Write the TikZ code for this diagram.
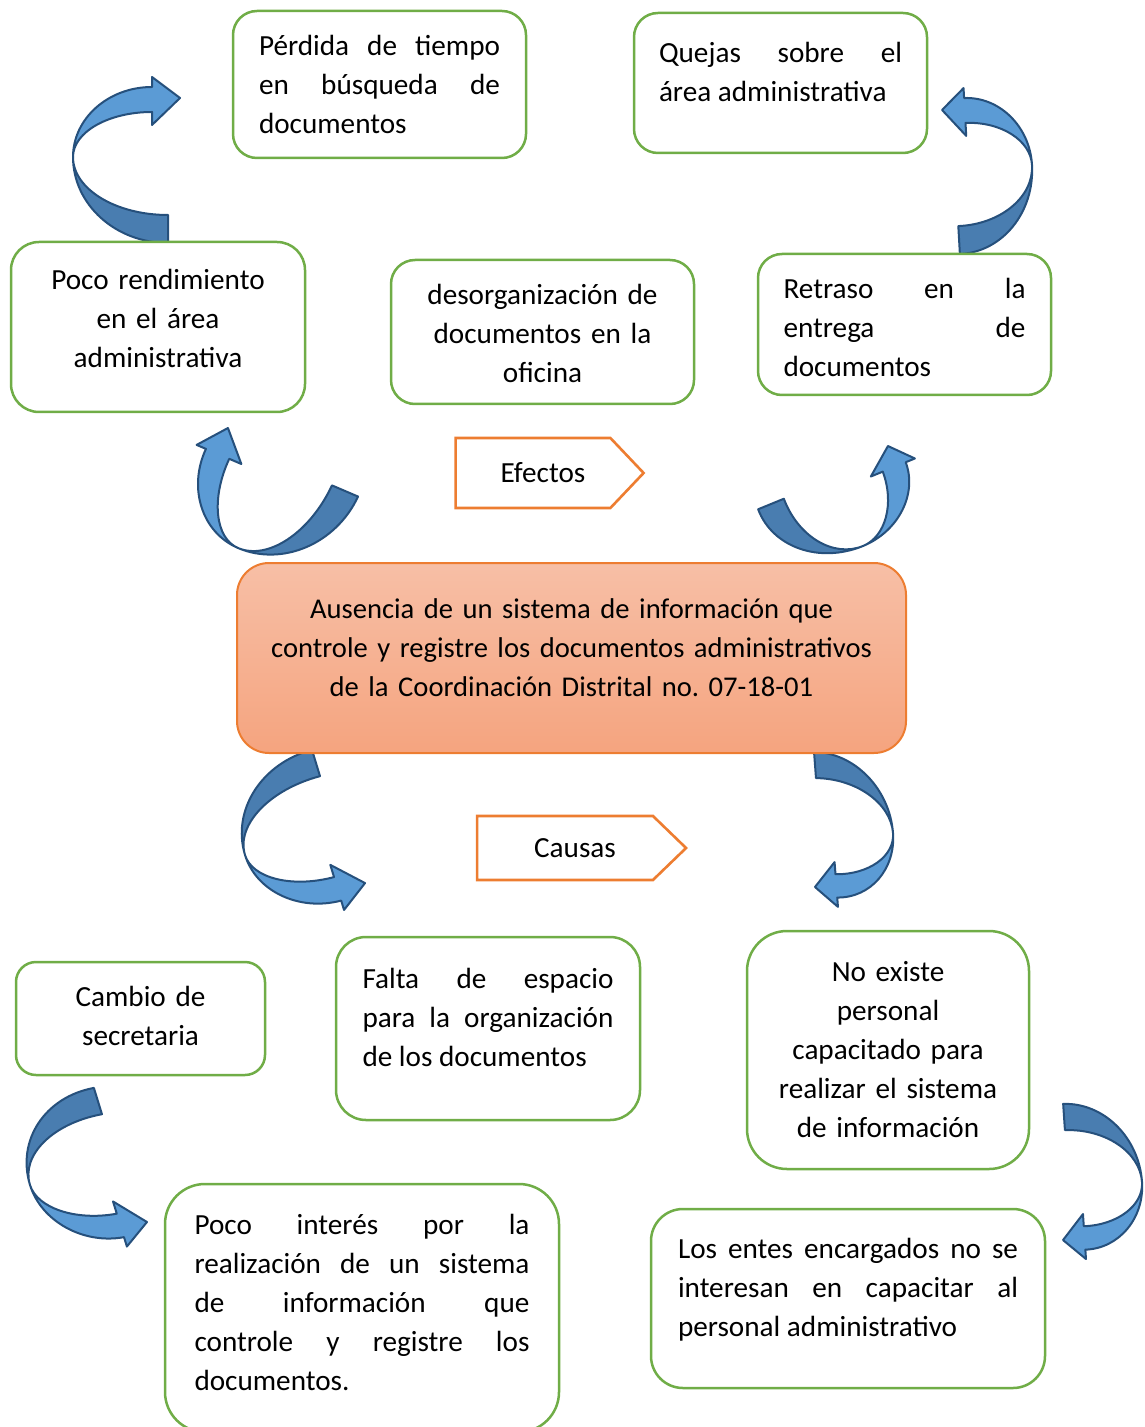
\documentclass[tikz,border=0pt]{standalone}
\usepackage{fontspec}
\setmainfont{Carlito}
\usetikzlibrary{positioning,shapes.symbols}
\definecolor{verde}{RGB}{112,173,71}
\definecolor{naranja}{RGB}{237,125,49}
\definecolor{claro}{RGB}{91,155,213}
\definecolor{oscuro}{RGB}{73,125,176}
\definecolor{borde}{RGB}{38,80,124}
\definecolor{salmonA}{RGB}{247,191,166}
\definecolor{salmonB}{RGB}{245,164,127}
\tikzset{>=latex}
\tikzset{texto/.style={font=\fontsize{14.6}{19.5}\selectfont}}
\tikzset{caja/.style={draw=verde,line width=1.25pt,fill=white,rounded corners=#1,inner sep=0pt,align=center,texto},caja/.default=12pt}
\tikzset{etiqueta/.style={signal,signal to=east,draw=naranja,line width=1.3pt,fill=white,inner sep=0pt,texto}}
\tikzset{principal/.style={draw=naranja,line width=1pt,rounded corners=16pt,top color=salmonA,bottom color=salmonB,inner sep=0pt,align=center,font=\fontsize{14.3}{19.5}\selectfont}}
\tikzset{curva/.pic={
    \filldraw[fill=oscuro,draw=borde,line width=1pt,line join=round] (0,0) .. controls (0,47.5) and (42.6,86) .. (95,86) -- (95,58) .. controls (42.6,58) and (0,32) .. (0,0) -- cycle;
    \filldraw[fill=claro,draw=borde,line width=1pt,line join=round] (0,0) .. controls (0,-38.6) and (35.4,-70) .. (79,-70) -- (79,-80) -- (107,-59) -- (79,-32) -- (79,-45) .. controls (35.4,-45) and (0,-24.8) .. (0,0) -- cycle;
}}
\newcommand{\abajo}[1]{\rule[-#1]{0pt}{#1}}
\newcommand{\arriba}[1]{\rule{0pt}{#1}}
\hyphenpenalty=10000
\tolerance=10000
\frenchspacing

\begin{document}
\begin{tikzpicture}[x=0.5pt,y=-0.5pt]
    \useasboundingbox (0,0) rectangle (1144,1427);
    % flechas curvas
    \pic at (73,157) {curva};
    \pic[cm={-0.81,-0.035,-0.056,0.996,(0,0)}] at (1032,165) {curva};
    \pic[cm={0.42,0.902,-0.932,0.398,(0,0)}] at (238,548) {curva};
    \pic[cm={-0.273,0.727,0.918,0.376,(0,0)}] at (863,546) {curva};
    \pic[cm={0.964,0.256,0.286,-0.94,(0,0)}] at (245,855) {curva};
    \pic[cm={-0.768,0.009,0.07,-0.932,(0,0)}] at (893,833) {curva};
    \pic[cm={0.934,0.172,0.289,-0.939,(0,0)}] at (30,1185) {curva};
    \pic[cm={-0.773,-0.026,0.063,-0.937,(0,0)}] at (1142,1182) {curva};

    % efectos
    \node[caja=12pt,minimum width=146.5pt,minimum height=73.5pt,text width=120.5pt,align=justify] (perdida) at (379.5,84.5) {Pérdida de tiempo\linebreak en búsqueda de\linebreak documentos};
    \node[caja=12pt,minimum width=146.5pt,minimum height=70pt,text width=121.5pt,align=justify] (quejas) at (780.5,83) {Quejas sobre el\linebreak área administrativa\abajo{11pt}};
    \node[caja=14pt,minimum width=147pt,minimum height=85pt,text width=140pt] (rendimiento) at (158,327) {Poco rendimiento\\ en el área\\ administrativa\abajo{9pt}};
    \node[caja=12pt,minimum width=151.5pt,minimum height=72pt,text width=145pt] (desorden) at (542.5,332) {\arriba{12pt}desorganización de\\ documentos en la\\ oficina};
    \node[caja=12pt,minimum width=146.5pt,minimum height=70.5pt,text width=121pt,align=justify] (retraso) at (904.5,324.5) {\arriba{13.5pt}Retraso en la\linebreak entrega de\linebreak documentos};
    \node[etiqueta,minimum width=94pt,minimum height=35pt,signal pointer angle=93] (efectos) at (533,473) {\hspace*{10pt}Efectos};

    % problema
    \node[principal,minimum width=334.5pt,minimum height=95pt,text width=330pt] (ausencia) at (571.5,658) {Ausencia de un sistema de información que\\ controle y registre los documentos administrativos\\ de la Coordinación Distrital no. 07-18-01\abajo{10pt}};

    % causas
    \node[etiqueta,minimum width=104.5pt,minimum height=32pt,signal pointer angle=88] (causas) at (565,848) {\hspace*{10pt}Causas};
    \node[caja=10pt,minimum width=124.5pt,minimum height=56.5pt,text width=120pt] (cambio) at (140.5,1018.5) {Cambio de\\ secretaria\abajo{3pt}};
    \node[caja=15pt,minimum width=152pt,minimum height=91.5pt,text width=125.5pt,align=justify] (falta) at (488,1028.5) {Falta de espacio\linebreak para la organización\linebreak de los documentos\abajo{11.5pt}};
    \node[caja=20pt,minimum width=141pt,minimum height=119pt,text width=135pt] (noexiste) at (888,1050) {No existe\\ personal\\ capacitado para\\ realizar el sistema\\ de información};
    \node[caja=20pt,minimum width=197pt,minimum height=124pt,text width=167.5pt,align=justify] (interes) at (362,1308) {Poco interés por la\linebreak realización de un sistema\linebreak de información que\linebreak controle y registre los\linebreak documentos.\abajo{6pt}};
    \node[caja=16pt,minimum width=197pt,minimum height=89.5pt,text width=170pt,align=justify] (entes) at (848,1298.5) {Los entes encargados no se\linebreak interesan en capacitar al\linebreak personal administrativo\abajo{11pt}};
\end{tikzpicture}
\end{document}
